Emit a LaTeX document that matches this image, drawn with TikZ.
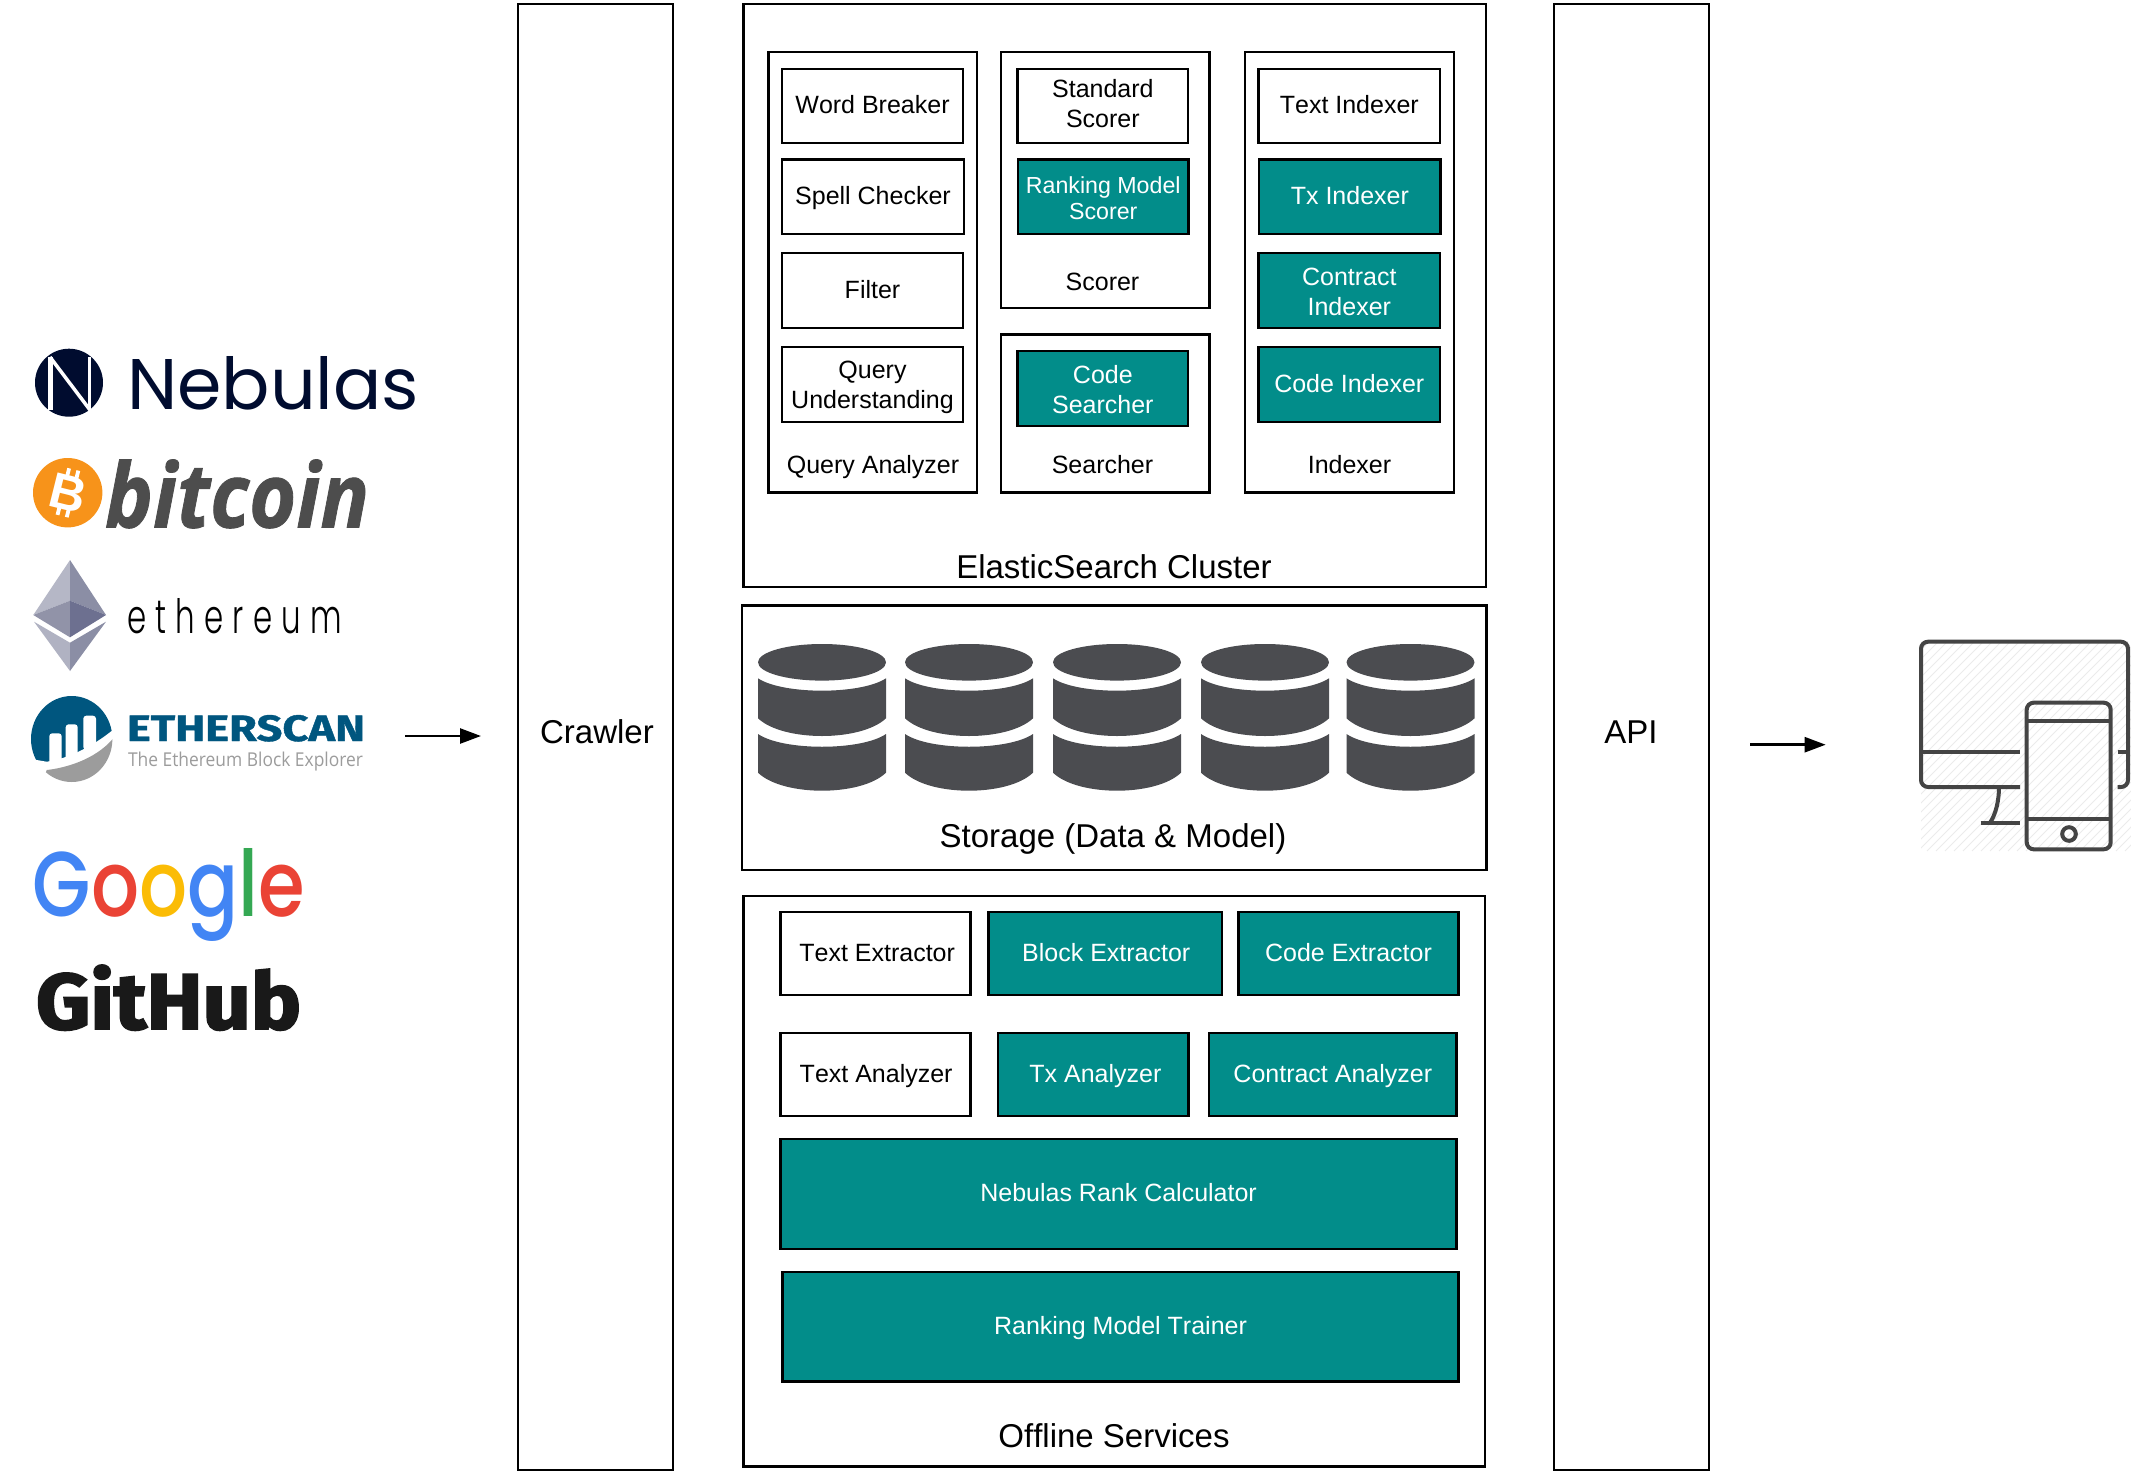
\documentclass[tikz,border=0pt]{standalone}
\usepackage{fontspec}
\usepackage{graphicx}
\usetikzlibrary{arrows.meta}
\setmainfont[Kerning=Off]{Liberation Sans}
\newfontfamily\pop{Poppins}
\newfontfamily\popmed{Poppins Medium}
\newfontfamily\poplightsp[LetterSpace=30]{Poppins Light}
\newfontfamily\opens{Open Sans}
\newfontfamily\opensbi[FakeBold=1]{Open Sans Bold Italic}
\newfontfamily\firabold[FakeBold=1]{Fira Sans Bold}
\newfontfamily\firafat[FakeBold=2.4]{Fira Sans Bold}
\definecolor{tealbox}{HTML}{028D8A}
\definecolor{dbgray}{HTML}{4B4C50}
\definecolor{icongray}{HTML}{444444}
\definecolor{nebnavy}{HTML}{000C2F}
\definecolor{btcorange}{HTML}{F7931A}
\definecolor{btcgray}{HTML}{4D4D4D}
\definecolor{esblue}{HTML}{00567F}
\definecolor{esgray}{HTML}{9C9C9C}
\definecolor{gblue}{HTML}{4285F4}
\definecolor{gred}{HTML}{EA4335}
\definecolor{gyellow}{HTML}{FBBC05}
\definecolor{ggreen}{HTML}{34A853}
\definecolor{ethA}{RGB}{181,183,198}
\definecolor{ethB}{RGB}{139,142,165}
\definecolor{ethC}{RGB}{145,147,168}
\definecolor{ethD}{RGB}{109,112,144}
\definecolor{ethE}{RGB}{176,178,194}
\newcommand{\lnstrut}{\rule[-0.21em]{0pt}{1.04em}}
\newcommand{\lowera}{\rule{0pt}{0.93em}}
\newcommand{\lowerb}{\rule{0pt}{1.03em}}
\tikzset{
  evenlines/.style={execute at begin node=\lnstrut,execute at end node=\lnstrut},
  plainbox/.style={draw=black,line width=2.7pt,fill=white,inner sep=0pt,outer sep=0pt,align=center,font=\fontsize{25}{30}\selectfont,evenlines},
  tealnode/.style={plainbox,fill=tealbox,text=white},
  panel/.style={draw=black,line width=2.7pt,fill=white,inner sep=0pt,outer sep=0pt},
  panellabel/.style={inner sep=0pt,outer sep=0pt,font=\fontsize{25}{30}\selectfont,evenlines},
  biglabel/.style={inner sep=0pt,outer sep=0pt,font=\fontsize{33}{38}\selectfont},
  flowarrow/.style={line width=2.5pt,-{Triangle[length=21pt,width=15pt]}},
  iconline/.style={draw=icongray,line width=4pt}
}
\newcommand{\bx}[7]{%
  \pgfmathsetmacro{\cx}{(#2+#4)/2}\pgfmathsetmacro{\cy}{(#3+#5)/2}%
  \pgfmathsetmacro{\bw}{#4-#2}\pgfmathsetmacro{\bh}{#5-#3}%
  \node[#6,minimum width=\bw pt,minimum height=\bh pt] (#1) at (\cx,\cy) {#7};}
\newcommand{\fittext}[6]{%
  \node[anchor=base west,inner sep=0pt,outer sep=0pt] (#1) at (#2,#3) {\resizebox{#4pt}{#5pt}{#6}};}
\begin{document}
\begin{tikzpicture}[x=1pt,y=-1pt]
\useasboundingbox (0,0) rectangle (2131,1475);
% columns
\bx{crawler}{518}{4}{673}{1470}{panel}{}
\bx{api}{1554}{4}{1709}{1470}{panel}{}
\bx{cluster}{743.5}{4}{1486}{587}{panel}{}
\bx{storage}{742}{605.3}{1486.5}{870}{panel}{}
\bx{offline}{743.6}{896}{1485}{1466.7}{panel}{}
\node[biglabel] (crawlerlabel) at (597,732) {Crawler};
\node[biglabel] (apilabel) at (1631,732) {API};
\node[biglabel] (clusterlabel) at (1114,567) {ElasticSearch Cluster};
\node[biglabel] (storagelabel) at (1113,838.7) {Storage (Data \& Model)};
\node[biglabel] (offlinelabel) at (1114,1435.5) {Offline Services};
% ES cluster
\bx{qa}{768.4}{52}{977}{492.5}{panel}{}
\bx{scorer}{1001}{52}{1209.6}{308}{panel}{}
\bx{searcher}{1001}{334.5}{1209.6}{492.5}{panel}{}
\bx{indexer}{1245}{52}{1454}{492.5}{panel}{}
\node[panellabel] (qalabel) at (873,465.5) {Query Analyzer};
\node[panellabel] (scorerlabel) at (1102.5,283) {Scorer};
\node[panellabel] (searcherlabel) at (1102.5,465.5) {Searcher};
\node[panellabel] (indexerlabel) at (1349.5,465.5) {Indexer};
\bx{wb}{782}{69}{963}{143}{plainbox}{Word Breaker}
\bx{sc}{782}{159.6}{964}{234}{plainbox}{Spell Checker}
\bx{fi}{782}{253}{963}{328}{plainbox}{Filter}
\bx{qu}{782}{347}{963}{422}{plainbox}{\lowera Query\\Understanding}
\bx{ss}{1017.7}{69}{1188}{143}{plainbox}{Standard\\Scorer}
\bx{rm}{1018}{159.6}{1188.5}{234}{tealnode,font=\fontsize{23.2}{26}\selectfont}{\lowerb Ranking Model\\Scorer}
\bx{cs}{1017.7}{351}{1188}{426}{tealnode}{\lowerb Code\\Searcher}
\bx{ti}{1258.6}{69}{1440}{143}{plainbox}{Text Indexer}
\bx{tx}{1259}{159.6}{1440.7}{234}{tealnode}{Tx Indexer}
\bx{ci}{1258.6}{253}{1440}{328}{tealnode}{\lowerb Contract\\Indexer}
\bx{cd}{1258.6}{347}{1440}{422}{tealnode}{Code Indexer}
% storage
\foreach \px in {758,905,1053,1201,1346.5}{
  \begin{scope}[shift={(\px,0)}]
    \fill[dbgray] (64,662.3) ellipse [x radius=64,y radius=18.3];
    \fill[dbgray] (0,678.3) .. controls (25,694.8) and (103,694.8) .. (128,678.3) -- (128,718.3) .. controls (103,741.9) and (25,741.9) .. (0,718.3) -- cycle;
    \fill[dbgray] (0,734) .. controls (25,751) and (103,751) .. (128,734) -- (128,772.7) .. controls (103,796.7) and (25,796.7) .. (0,772.7) -- cycle;
  \end{scope}
}
% offline
\bx{te}{780.6}{912}{970.7}{995}{plainbox}{\hspace*{3pt}Text Extractor}
\bx{be}{988.5}{912}{1222}{995}{tealnode}{\hspace*{2pt}Block Extractor}
\bx{ce}{1238.5}{912}{1458.5}{995}{tealnode}{Code Extractor}
\bx{ta}{780.6}{1033}{970.7}{1116}{plainbox}{\hspace*{1pt}Text Analyzer}
\bx{txa}{998}{1033}{1188.8}{1116}{tealnode}{\hspace*{4pt}Tx Analyzer}
\bx{coa}{1209}{1033}{1456.6}{1116}{tealnode}{Contract Analyzer}
\bx{nr}{780.6}{1139}{1456.6}{1249}{tealnode}{Nebulas Rank Calculator}
\bx{rt}{782.5}{1272}{1458.5}{1381.7}{tealnode}{Ranking Model Trainer}
% arrows
\coordinate (inA) at (405,736);
\coordinate (inB) at (481,736);
\coordinate (outA) at (1750,744.7);
\coordinate (outB) at (1825.7,744.7);
\draw[flowarrow] (inA) -- (inB);
\draw[flowarrow] (outA) -- (outB);
% device icon
\begin{scope}
  \clip (1921,641) rectangle (2131,851);
  \foreach \k in {0,9,...,450}{
    \draw[draw=black!8,line width=1pt] (1921+\k-210,851) -- (1921+\k,641);
  }
\end{scope}
\draw[iconline,rounded corners=7pt] (2020,787) -- (1921,787) -- (1921,641.7) -- (2128,641.7) -- (2128,787) -- (2117.7,787);
\draw[iconline] (1921,752) -- (2020,752);
\draw[iconline] (2117.7,752) -- (2128,752);
\draw[iconline] (1999,787) .. controls (1999,800) and (1996,814) .. (1990,822.7);
\draw[iconline] (1980.7,822.7) -- (2020,822.7);
\draw[iconline,rounded corners=7pt] (2026.7,702.7) rectangle (2110.7,849.3);
\draw[iconline] (2026.7,721) -- (2110.7,721);
\draw[iconline] (2026.7,818.7) -- (2110.7,818.7);
\draw[iconline] (2069,834) circle [radius=6.8];
% Nebulas logo
\fill[nebnavy] (69,382.7) circle [radius=34];
\draw[white,line width=4.5pt] (50.5,357) -- (50.5,410);
\draw[white,line width=3pt] (89.5,357) -- (89.5,410);
\draw[white,line width=3.5pt] (50,357) -- (90,410);
\fittext{nebulas}{127}{409.5}{292}{53}{\color{nebnavy}\pop Nebulas}
% bitcoin logo
\fill[btcorange] (67.7,492.7) circle [radius=34.7];
\begin{scope}[shift={(67.7,492.7)},rotate=-14]
  \foreach \tx in {-4.5,5}{
    \draw[white,line width=3.8pt] (\tx,-24) -- (\tx,-14);
    \draw[white,line width=3.8pt] (\tx,14) -- (\tx,24);
  }
\end{scope}
\node[rotate=-14,text=white,inner sep=0pt,outer sep=0pt,font=\fontsize{50}{50}\bfseries\selectfont] (btcsign) at (68.5,492.7) {B};
\fittext{bitcoin}{105}{527.5}{264}{68}{\color{btcgray}\opensbi bitcoin}
% ethereum logo
\fill[ethA] (70,560) -- (33.3,615) -- (70,600.7) -- cycle;
\fill[ethB] (70,560) -- (106,615) -- (70,600.7) -- cycle;
\fill[ethC] (33.3,615) -- (70,600.7) -- (70,637.3) -- cycle;
\fill[ethD] (106,615) -- (70,600.7) -- (70,637.3) -- cycle;
\fill[ethE] (34,621.7) -- (70,642.7) -- (70,671) -- cycle;
\fill[ethB] (106,621.7) -- (70,642.7) -- (70,671) -- cycle;
\fittext{ethereum}{127}{633}{215}{35}{\color{black}\poplightsp ethereum}
% etherscan logo
\fill[esblue] (71.7,739) ellipse [x radius=40.7,y radius=43];
\fill[white] (25,758) -- (36.7,760) -- (46.7,761.7) .. controls (60,760) and (85,752) .. (110.7,731.7) -- (120,725) -- (120,790) -- (25,790) -- cycle;
\begin{scope}
  \clip (71.7,739) ellipse [x radius=40.7,y radius=43];
  \fill[esgray] (46.7,770) .. controls (65,768) and (95,760) .. (113.3,738.3) -- (125,738) -- (125,790) -- (40,790) -- cycle;
\end{scope}
\fill[white,rounded corners=3pt] (49.3,765) -- (49.3,733.3) -- (61.7,733.3) -- (61.7,762) -- cycle;
\fill[white,rounded corners=3pt] (65.7,760) -- (65.7,724.3) -- (77.7,724.3) -- (77.7,755) -- cycle;
\fill[white,rounded corners=3pt] (83.3,750) -- (83.3,715.7) -- (96,715.7) -- (96,745) -- cycle;
\fittext{etherscan}{127}{741}{238}{26}{\color{esblue}\firabold ETHERSCAN}
\fittext{esplorer}{128}{766}{235}{14.5}{\color{esgray}\opens The Ethereum Block Explorer}
% Google
\fittext{google}{33}{916}{272}{68}{\popmed{\color{gblue}G}{\color{gred}o}{\color{gyellow}o}{\color{gblue}g}{\color{ggreen}l}{\color{gred}e}}
% GitHub
\fittext{github}{36}{1029}{265}{64}{\color{black!90}\firafat GitHub}
\end{tikzpicture}
\end{document}
